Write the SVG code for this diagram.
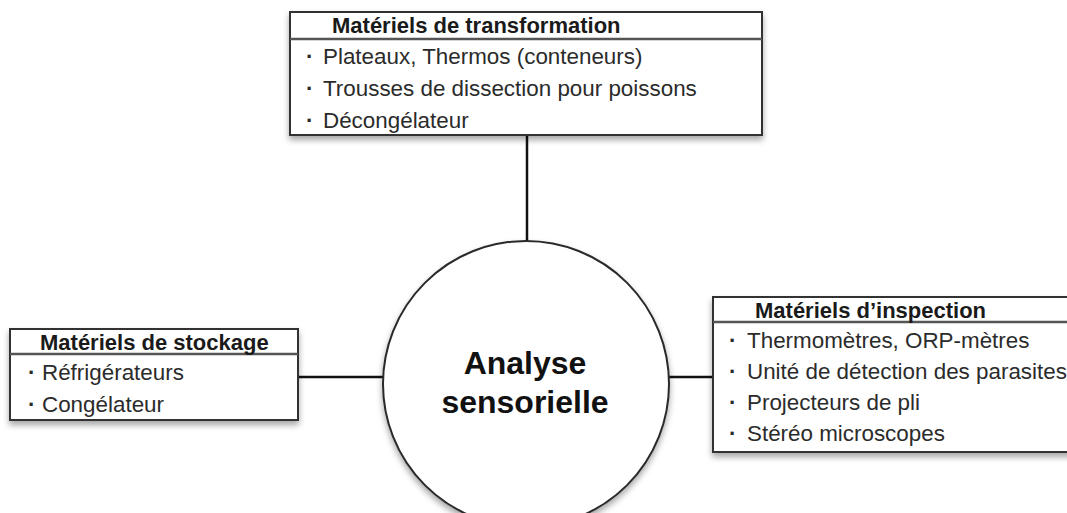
<svg xmlns="http://www.w3.org/2000/svg" width="1067" height="513" viewBox="0 0 1067 513">
  <defs>
    <filter id="shadow" x="-10%" y="-10%" width="130%" height="140%">
      <feDropShadow dx="0" dy="4" stdDeviation="3" flood-color="#000" flood-opacity="0.35"/>
    </filter>
    <style>
      .box { fill: #fff; stroke: #333; stroke-width: 2; filter: url(#shadow); }
      .divider { stroke: #555; stroke-width: 2.5; fill: none; }
      .link { stroke: #111; stroke-width: 2.5; fill: none; }
      .hub { fill: #fff; stroke: #2a2a2a; stroke-width: 2; filter: url(#shadow); }
      .head { font-family: "Liberation Sans", Arial, sans-serif; font-size: 22px; font-weight: bold; fill: #1a1a1a; }
      .item { font-family: "Liberation Sans", Arial, sans-serif; font-size: 22.4px; fill: #2b2b2b; }
      .bullet { font-weight: bold; }
      .title { font-family: "Liberation Sans", Arial, sans-serif; font-size: 32px; font-weight: bold; fill: #111; text-anchor: middle; }
    </style>
  </defs>

  <!-- connectors between the hub and the equipment boxes -->
  <g id="connectors">
    <line class="link" x1="527" y1="135" x2="527" y2="242"/>
    <line class="link" x1="298" y1="377" x2="384" y2="377"/>
    <line class="link" x1="668" y1="377" x2="714" y2="377"/>
  </g>

  <!-- central hub -->
  <g id="hub">
    <circle class="hub" cx="526" cy="384" r="143"/>
    <text class="title" x="525" y="374">Analyse</text>
    <text class="title" x="525" y="413">sensorielle</text>
  </g>

  <!-- processing equipment -->
  <g id="transformation">
    <rect class="box" x="290" y="12" width="472" height="123"/>
    <line class="divider" x1="290" y1="39" x2="762" y2="39"/>
    <text class="head" x="332" y="33">Matériels de transformation</text>
    <text class="item" x="306" y="64"><tspan class="bullet">·</tspan><tspan x="323">Plateaux, Thermos (conteneurs)</tspan></text>
    <text class="item" x="306" y="96"><tspan class="bullet">·</tspan><tspan x="323">Trousses de dissection pour poissons</tspan></text>
    <text class="item" x="306" y="128"><tspan class="bullet">·</tspan><tspan x="323">Décongélateur</tspan></text>
  </g>

  <!-- storage equipment -->
  <g id="stockage">
    <rect class="box" x="10" y="329" width="288" height="91"/>
    <line class="divider" x1="10" y1="354" x2="298" y2="354"/>
    <text class="head" x="40" y="350">Matériels de stockage</text>
    <text class="item" x="28" y="380"><tspan class="bullet">·</tspan><tspan x="42">Réfrigérateurs</tspan></text>
    <text class="item" x="28" y="412"><tspan class="bullet">·</tspan><tspan x="42">Congélateur</tspan></text>
  </g>

  <!-- inspection equipment -->
  <g id="inspection">
    <rect class="box" x="713" y="297" width="370" height="155"/>
    <line class="divider" x1="713" y1="322" x2="1083" y2="322"/>
    <text class="head" x="755" y="318">Matériels d’inspection</text>
    <text class="item" x="729" y="348"><tspan class="bullet">·</tspan><tspan x="747">Thermomètres, ORP-mètres</tspan></text>
    <text class="item" x="729" y="379"><tspan class="bullet">·</tspan><tspan x="747">Unité de détection des parasites</tspan></text>
    <text class="item" x="729" y="410"><tspan class="bullet">·</tspan><tspan x="747">Projecteurs de pli</tspan></text>
    <text class="item" x="729" y="441"><tspan class="bullet">·</tspan><tspan x="747">Stéréo microscopes</tspan></text>
  </g>
</svg>
